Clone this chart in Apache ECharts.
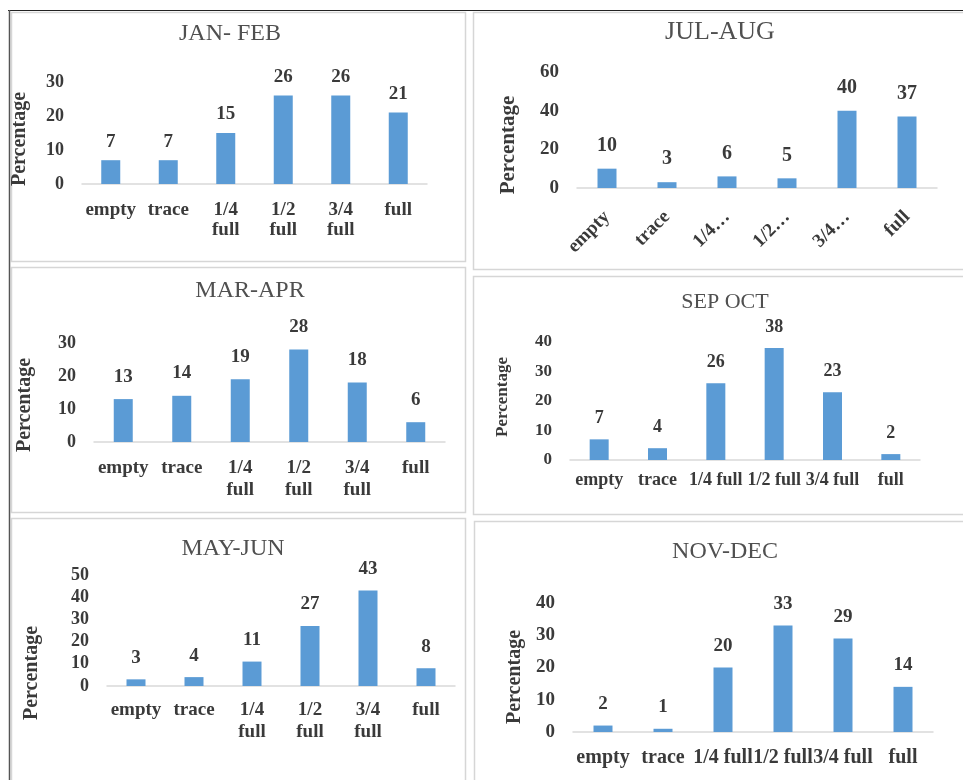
<!DOCTYPE html>
<html>
<head>
<meta charset="utf-8">
<title>Bin fill level by period</title>
<script src="https://cdn.jsdelivr.net/npm/echarts@6/dist/echarts.min.js"></script>
<style>
  html, body { margin: 0; padding: 0; background: #ffffff; }
  #chart { width: 963px; height: 780px; }
</style>
</head>
<body>
<div id="chart"></div>
<script>
// Fill-level categories shared by every panel
const categories = ['empty', 'trace', '1/4 full', '1/2 full', '3/4 full', 'full'];

// Panel titles (two-month periods)
const periods = ['JAN- FEB', 'JUL-AUG', 'MAR-APR', 'SEP OCT', 'MAY-JUN', 'NOV-DEC'];

// Percentage of observations in each fill-level category
const janFeb = [7, 7, 15, 26, 26, 21];
const julAug = [10, 3, 6, 5, 40, 37];
const marApr = [13, 14, 19, 28, 18, 6];
const sepOct = [7, 4, 26, 38, 23, 2];
const mayJun = [3, 4, 11, 27, 43, 8];
const novDec = [2, 1, 20, 33, 29, 14];

// Value-axis ranges (ticks run 0..max in steps)
const axisMax  = [30, 60, 30, 40, 50, 40];
const axisStep = [10, 20, 10, 10, 10, 10];

const seriesValues = [janFeb, julAug, marApr, sepOct, mayJun, novDec];

// Panel layout: frame box, plot area, title centre, axis-name centre, text sizes
const panels = [
  { box: [11, 12, 454, 249],  grid: [82, 82, 345, 102],  title: [230, 35, 24], yname: [20, 139, 20],
    tick: 18, val: 19, valGap: 9, cat: 19, catLH: 20, catMargin: 16, mode: 'wrap' },
  { box: [473, 12, 500, 257], grid: [577, 72, 360, 116], title: [720, 33, 26], yname: [509, 145, 21],
    tick: 19, val: 20, valGap: 13, cat: 19, catLH: 20, catMargin: 26, mode: 'short' },
  { box: [11, 267, 454, 245], grid: [94, 343, 351, 99],  title: [250, 292, 24], yname: [25, 405, 20],
    tick: 18, val: 19, valGap: 13, cat: 19, catLH: 22, catMargin: 15, mode: 'wrap' },
  { box: [473, 276, 500, 238], grid: [570, 342, 350, 118], title: [725, 303, 22], yname: [503, 397, 17],
    tick: 17, val: 18, valGap: 12, cat: 18, catLH: 18, catMargin: 11, mode: 'line' },
  { box: [11, 518, 454, 280], grid: [107, 575, 348, 111], title: [233, 550, 24], yname: [32, 673, 20],
    tick: 18, val: 19, valGap: 12, cat: 19, catLH: 22, catMargin: 13, mode: 'wrap' },
  { box: [474, 521, 500, 280], grid: [573, 603, 360, 129], title: [725, 553, 24], yname: [515, 677, 20],
    tick: 19, val: 19, valGap: 12, cat: 20, catLH: 20, catMargin: 16, mode: 'line' }
];

const SERIF = '"Liberation Serif", "Times New Roman", serif';
const TEXT = '#3a3a3a';
const BAR = '#5B9BD5';

function categoryFormatter(mode) {
  if (mode === 'wrap') return v => v.replace(' ', '\n');
  if (mode === 'short') return v => (v.indexOf(' ') > 0 ? v.split(' ')[0] + '\u2026' : v);
  return v => v;
}

const grids = [], xAxes = [], yAxes = [], series = [], titles = [], graphics = [];

// outer frame lines (top and left)
graphics.push({ type: 'line', silent: true, shape: { x1: 8, y1: 10.5, x2: 963, y2: 10.5 },
  style: { stroke: '#222', lineWidth: 1.2 } });
graphics.push({ type: 'line', silent: true, shape: { x1: 9.5, y1: 10, x2: 9.5, y2: 780 },
  style: { stroke: '#555', lineWidth: 1.5 } });

panels.forEach((p, i) => {
  graphics.push({
    type: 'rect', silent: true, z: -1,
    shape: { x: p.box[0] + 0.5, y: p.box[1] + 0.5, width: p.box[2], height: p.box[3] },
    style: { fill: 'none', stroke: '#d6d6d6', lineWidth: 1.5 }
  });
  graphics.push({
    type: 'text', silent: true,
    x: p.yname[0], y: p.yname[1], rotation: Math.PI / 2,
    style: { text: 'Percentage', font: 'bold ' + p.yname[2] + 'px ' + SERIF, fill: TEXT,
             align: 'center', verticalAlign: 'middle' }
  });

  titles.push({
    text: periods[i], left: p.title[0], top: p.title[1] - p.title[2] / 2 - 1,
    textAlign: 'center', padding: 0,
    textStyle: { fontFamily: SERIF, fontWeight: 'normal', fontSize: p.title[2], color: '#505050' }
  });

  grids.push({ left: p.grid[0], top: p.grid[1], width: p.grid[2], height: p.grid[3], containLabel: false });

  xAxes.push({
    type: 'category', gridIndex: i, data: categories,
    axisLine: { lineStyle: { color: '#d9d9d9', width: 1.5 } },
    axisTick: { show: false },
    splitLine: { show: false },
    axisLabel: {
      interval: 0, hideOverlap: false,
      rotate: p.mode === 'short' ? 45 : 0,
      margin: p.catMargin,
      fontFamily: SERIF, fontWeight: 'bold', fontSize: p.cat, lineHeight: p.catLH, color: TEXT,
      formatter: categoryFormatter(p.mode)
    }
  });

  yAxes.push({
    type: 'value', gridIndex: i, min: 0, max: axisMax[i], interval: axisStep[i],
    axisLine: { show: false }, axisTick: { show: false }, splitLine: { show: false },
    axisLabel: { margin: 18, fontFamily: SERIF, fontWeight: 'bold', fontSize: p.tick, color: TEXT }
  });

  series.push({
    type: 'bar', name: periods[i], xAxisIndex: i, yAxisIndex: i,
    data: seriesValues[i], barWidth: 19,
    itemStyle: { color: BAR },
    label: {
      show: true, position: 'top', distance: p.valGap,
      fontFamily: SERIF, fontWeight: 'bold', fontSize: p.val, color: TEXT
    },
    emphasis: { disabled: true }
  });
});

const chart = echarts.init(document.getElementById('chart'), null, { renderer: 'canvas' });
chart.setOption({
  backgroundColor: '#ffffff',
  animation: false,
  title: titles,
  grid: grids,
  xAxis: xAxes,
  yAxis: yAxes,
  series: series,
  graphic: { elements: graphics }
});
</script>
</body>
</html>
